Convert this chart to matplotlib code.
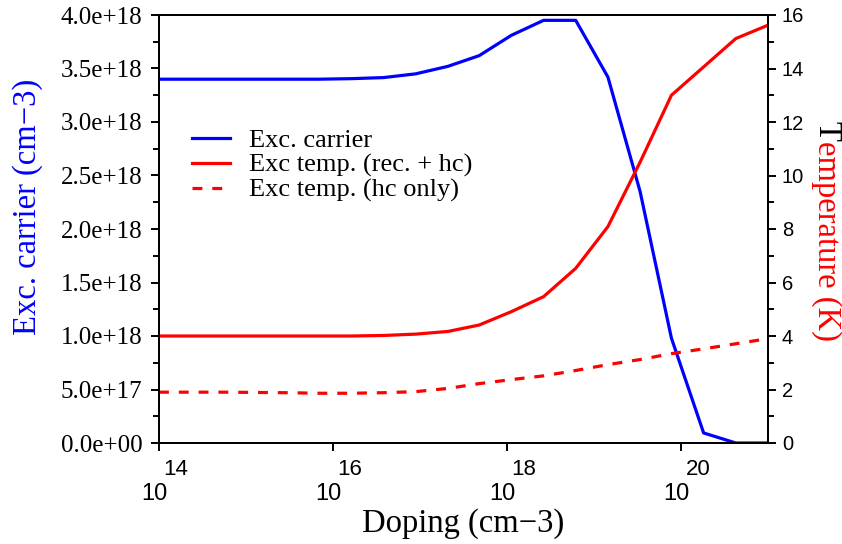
import numpy as np
import matplotlib
matplotlib.use('Agg')
import matplotlib.pyplot as plt
from matplotlib.ticker import MultipleLocator, FuncFormatter, NullLocator, FixedLocator
from matplotlib.transforms import ScaledTranslation

plt.rcParams['font.family'] = 'Liberation Serif'

# ---- data ----
doping_exp = [14.00, 14.37, 14.74, 15.11, 15.47, 15.84, 16.21, 16.58, 16.95, 17.32,
              17.68, 18.05, 18.42, 18.79, 19.16, 19.53, 19.89, 20.26, 20.63, 21.00]
exc_carrier_e18 = [3.40, 3.40, 3.40, 3.40, 3.40, 3.40, 3.405, 3.415, 3.45, 3.52,
                   3.62, 3.81, 3.95, 3.95, 3.42, 2.35, 0.98, 0.094, 0.0, 0.0]
temp_rec_hc = [4.0, 4.0, 4.0, 4.0, 4.0, 4.0, 4.0, 4.02, 4.07, 4.17,
               4.41, 4.91, 5.47, 6.53, 8.09, 10.5, 13.0, 14.06, 15.12, 15.62]
temp_hc_only = [1.90, 1.90, 1.90, 1.89, 1.88, 1.86, 1.86, 1.88, 1.92, 2.04,
                2.22, 2.37, 2.51, 2.71, 2.93, 3.12, 3.34, 3.52, 3.71, 3.90]
xtick_exps = [14, 16, 18, 20]

doping = 10.0 ** np.array(doping_exp)
exc_carrier = np.array(exc_carrier_e18) * 1e18

W, H = 842, 544
fig = plt.figure(figsize=(W / 100, H / 100), dpi=100)
ax = fig.add_axes([159 / W, 1 - 443 / H, (768 - 159) / W, (443 - 15) / H])
ax2 = ax.twinx()

lw = 2.3
l1, = ax.plot(doping, exc_carrier, color='#0000ff', lw=lw, label='Exc. carrier')
l2, = ax2.plot(doping, temp_rec_hc, color='#ff0000', lw=lw, label='Exc temp. (rec. + hc)')
l3, = ax2.plot(doping, temp_hc_only, color='#ff0000', lw=lw, ls=(0, (3.1, 3.1)),
               label='Exc temp. (hc only)')

# x axis: grace-style "10" with exponent above
ax.set_xscale('log')
ax.set_xlim(1e14, 1e21)
ax.xaxis.set_major_locator(FixedLocator([10.0 ** e for e in xtick_exps]))
ax.xaxis.set_minor_locator(NullLocator())
ax.set_xticklabels([''] * len(xtick_exps))
for e in xtick_exps:
    ax.annotate('10', xy=(10.0 ** e, 0), xycoords=('data', 'axes fraction'),
                xytext=(-3.6, -41), textcoords='offset points',
                ha='center', va='baseline', fontsize=17, family='Liberation Sans')
    ax.annotate(str(e), xy=(10.0 ** e, 0), xycoords=('data', 'axes fraction'),
                xytext=(3.2, -23), textcoords='offset points',
                ha='left', va='baseline', fontsize=16, family='Liberation Sans')
ax.annotate('Doping (cm\u22123)', xy=(0.5, 0), xycoords='axes fraction',
            xytext=(0, -64), textcoords='offset points',
            ha='center', va='baseline', fontsize=23.5)

# left axis
ax.set_ylim(0, 4e18)
ax.yaxis.set_major_locator(MultipleLocator(0.5e18))
ax.yaxis.set_minor_locator(MultipleLocator(0.25e18))
ax.yaxis.set_major_formatter(FuncFormatter(lambda v, p: f'{v:.1e}'))
ax.tick_params(axis='y', which='major', direction='out', length=6, width=1.4,
               labelsize=18, pad=6)
ax.tick_params(axis='y', which='minor', direction='out', length=4, width=1.4)
ax.tick_params(axis='x', which='major', direction='out', length=6, width=1.4)

# right axis
ax2.set_ylim(0, 16)
ax2.yaxis.set_major_locator(MultipleLocator(2))
ax2.yaxis.set_minor_locator(MultipleLocator(1))
ax2.tick_params(axis='y', which='major', direction='out', length=6, width=1.4,
                labelsize=14.5, pad=4)
ax2.tick_params(axis='y', which='minor', direction='out', length=4, width=1.4)
for t in ax2.get_yticklabels():
    t.set_family('Liberation Sans')

for a in (ax, ax2):
    for s in a.spines.values():
        s.set_linewidth(1.4)

# axis titles
fig.text(28 / W, 1 - 207 / H, 'Exc. carrier (cm\u22123)', rotation=90,
         ha='center', va='center', fontsize=23.5, color='#0000ff')
# right title: black "T" then the rest in red (as in the reference)
fs_r = 23.5
fig.text(818 / W, 1 - 121 / H, 'T', rotation=270, rotation_mode='anchor',
         ha='left', va='baseline', fontsize=fs_r, color='black')
shift = ScaledTranslation(0, -0.611 * fs_r / 72, fig.dpi_scale_trans)
fig.text(818 / W, 1 - 121 / H, 'emperature (K)', rotation=270, rotation_mode='anchor',
         ha='left', va='baseline', fontsize=fs_r, color='#ff0000',
         transform=fig.transFigure + shift)

ax2.legend(handles=[l1, l2, l3], loc='upper left', frameon=False,
           bbox_to_anchor=(192 / W, 1 - 129 / H), bbox_transform=fig.transFigure,
           borderaxespad=0, borderpad=0, fontsize=19, handlelength=1.45,
           handletextpad=0.7, labelspacing=0.04)

fig.savefig('out.png', dpi=100)
